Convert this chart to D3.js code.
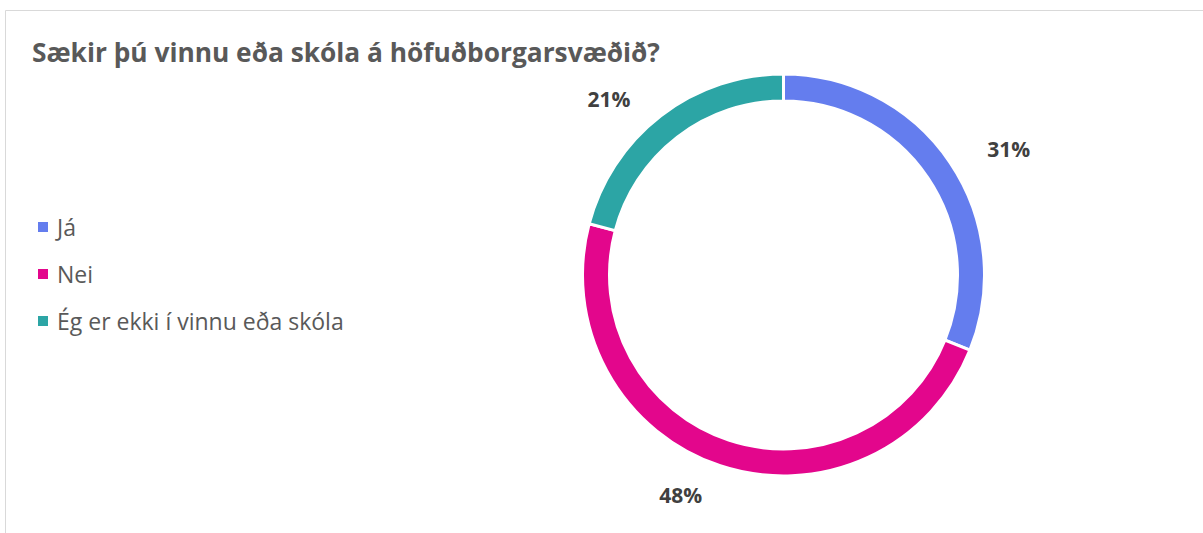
<!DOCTYPE html>
<html><head><meta charset="utf-8">
<script src="https://cdn.jsdelivr.net/npm/d3@7"></script>
<style>html,body{margin:0;padding:0;background:#fff;}svg{display:block;}</style>
</head><body>
<script>
const title = "Sækir þú vinnu eða skóla á höfuðborgarsvæðið?";
const categories = ["Já", "Nei", "Ég er ekki í vinnu eða skóla"];
const values = [31.1, 48.0, 20.9];
const labels = ["31%", "48%", "21%"];
const colors = ["#647DEE", "#E3068C", "#2CA5A5"];

const W = 1203, H = 533;
const svg = d3.select("body").append("svg").attr("width", W).attr("height", H);
svg.append("rect").attr("width", W).attr("height", H).attr("fill", "#fff");
// frame
svg.append("path").attr("d", `M5.5,${H} V10.5 H${W}`).attr("fill", "none").attr("stroke", "#d9d9d9").attr("stroke-width", 1);

svg.append("text").attr("x", 32).attr("y", 62).text(title)
  .attr("font-family", "'Open Sans', sans-serif").attr("font-weight", 700)
  .attr("font-size", 26.3).attr("fill", "#595959");

const cx = 783.5, cy = 275, rOut = 201, rIn = 174;
const pie = d3.pie().sort(null).value(d => d)(values);
const arc = d3.arc().innerRadius(rIn).outerRadius(rOut);
const g = svg.append("g").attr("transform", `translate(${cx},${cy})`);
g.selectAll("path").data(pie).join("path")
  .attr("d", arc).attr("fill", (d, i) => colors[i])
  .attr("stroke", "#fff").attr("stroke-width", 3);

const labelArc = d3.arc().innerRadius(250).outerRadius(250);
const nudge = [[18, 14], [-24, -17], [-22, 22]];
g.selectAll("text.lbl").data(pie).join("text").attr("class", "lbl")
  .attr("transform", (d, i) => { const c = labelArc.centroid(d); return `translate(${c[0] + nudge[i][0]},${c[1] + nudge[i][1]})`; })
  .attr("text-anchor", "middle").attr("dominant-baseline", "central")
  .attr("font-family", "'Open Sans', sans-serif").attr("font-weight", 700)
  .attr("font-size", 21).attr("fill", "#404040")
  .text((d, i) => labels[i]);

const leg = svg.append("g");
const items = leg.selectAll("g").data(categories).join("g")
  .attr("transform", (d, i) => `translate(38,${227 + i * 47})`);
items.append("rect").attr("x", 0).attr("y", -5).attr("width", 10).attr("height", 10)
  .attr("fill", (d, i) => colors[i]);
items.append("text").attr("x", 19).attr("y", 0).attr("dominant-baseline", "central")
  .attr("font-family", "'Open Sans', sans-serif").attr("font-size", 23).attr("fill", "#595959")
  .text(d => d);
</script>
</body></html>
